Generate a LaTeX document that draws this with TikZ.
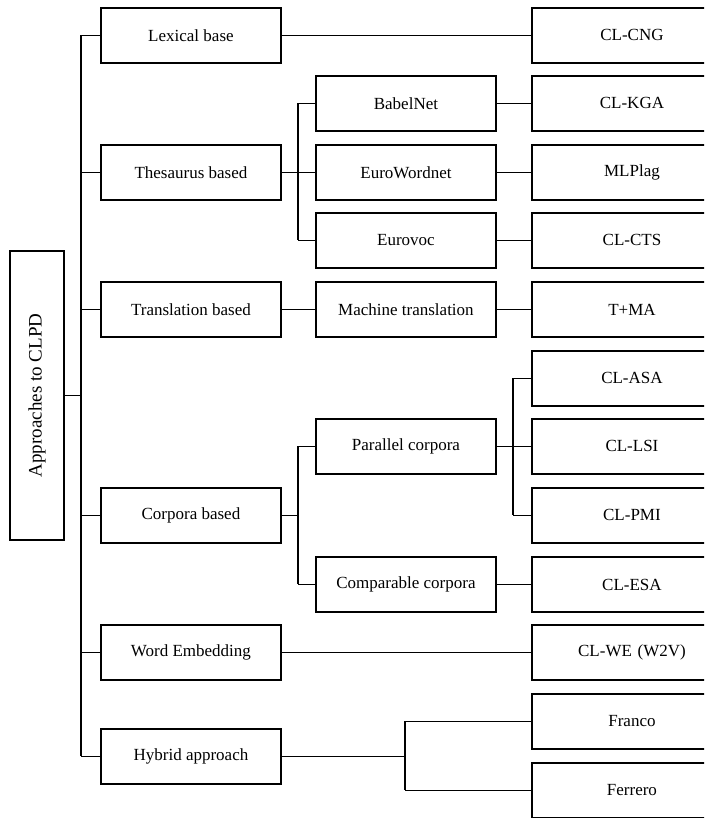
\documentclass[tikz,border=0pt]{standalone}
\usepackage{fontspec}
\setmainfont{Liberation Serif}
\begin{document}
\begin{tikzpicture}[x=1pt,y=-1pt,
  box/.style={draw,line width=1.9pt,minimum width=180pt,minimum height=55pt,inner sep=0pt,anchor=north west,font=\fontsize{17}{20}\selectfont},
  rbox/.style={draw,line width=1.9pt,minimum width=200pt,minimum height=55pt,inner sep=0pt,anchor=north west,font=\fontsize{17}{20}\selectfont,text width=173pt,align=center},
  conn/.style={line width=1.6pt}]
\useasboundingbox (0,0) rectangle (704,818);
\clip (0,0) rectangle (704,818);
% root
\node[draw,line width=1.9pt,minimum width=54pt,minimum height=289pt,inner sep=0pt,anchor=north west] (root) at (9,250) {};
\node[rotate=90,font=\fontsize{19}{22}\selectfont] (roottext) at (root.center) {Approaches to CLPD};
% level 1
\node[box] (lex) at (100,7) {Lexical base};
\node[box] (the) at (100,144) {Thesaurus based};
\node[box] (tra) at (100,281) {Translation based};
\node[box] (cor) at (100,487) {Corpora based};
\node[box] (we) at (100,624) {Word Embedding};
\node[box] (hyb) at (100,728) {Hybrid approach};
% level 2
\node[box] (bab) at (315,75) {BabelNet};
\node[box] (ewn) at (315,144) {EuroWordnet};
\node[box] (evc) at (315,212) {Eurovoc};
\node[box] (mt) at (315,281) {Machine translation};
\node[box] (par) at (315,418) {Parallel corpora};
\node[box] (cmp) at (315,556) {Comparable corpora};
% level 3
\node[rbox] (cng) at (531,7) {CL-CNG};
\node[rbox] (kga) at (531,75) {CL-KGA};
\node[rbox] (mlp) at (531,144) {MLPlag};
\node[rbox] (cts) at (531,212) {CL-CTS};
\node[rbox] (tma) at (531,281) {T+MA};
\node[rbox] (asa) at (531,350) {CL-ASA};
\node[rbox] (lsi) at (531,418) {CL-LSI};
\node[rbox] (pmi) at (531,487) {CL-PMI};
\node[rbox] (esa) at (531,556) {CL-ESA};
\node[rbox] (w2v) at (531,624) {CL-WE (W2V)};
\node[rbox] (fra) at (531,693) {Franco};
\node[rbox] (fer) at (531,762) {Ferrero};
% coordinates
\coordinate (spine) at (81,0);
\coordinate (tb) at (298,0);
\coordinate (cb) at (298,0);
\coordinate (pb) at (513,0);
\coordinate (hb) at (405,0);
% root spine
\draw[conn] (root.east) -- (root.east -| spine);
\draw[conn] (lex.west -| spine) -- (hyb.west -| spine);
\foreach \n in {lex,the,tra,cor,we,hyb} \draw[conn] (\n.west -| spine) -- (\n.west);
% lexical
\draw[conn] (lex.east) -- (cng.west);
% thesaurus
\draw[conn] (the.east) -- (ewn.west);
\draw[conn] (bab.west -| tb) -- (evc.west -| tb);
\draw[conn] (bab.west -| tb) -- (bab.west);
\draw[conn] (evc.west -| tb) -- (evc.west);
\draw[conn] (bab.east) -- (kga.west);
\draw[conn] (ewn.east) -- (mlp.west);
\draw[conn] (evc.east) -- (cts.west);
% translation
\draw[conn] (tra.east) -- (mt.west);
\draw[conn] (mt.east) -- (tma.west);
% corpora
\draw[conn] (cor.east) -- (cor.east -| cb);
\draw[conn] (par.west -| cb) -- (cmp.west -| cb);
\draw[conn] (par.west -| cb) -- (par.west);
\draw[conn] (cmp.west -| cb) -- (cmp.west);
\draw[conn] (par.east) -- (lsi.west);
\draw[conn] (asa.west -| pb) -- (pmi.west -| pb);
\draw[conn] (asa.west -| pb) -- (asa.west);
\draw[conn] (pmi.west -| pb) -- (pmi.west);
\draw[conn] (cmp.east) -- (esa.west);
% word embedding
\draw[conn] (we.east) -- (w2v.west);
% hybrid
\draw[conn] (hyb.east) -- (hyb.east -| hb);
\draw[conn] (fra.west -| hb) -- (fer.west -| hb);
\draw[conn] (fra.west -| hb) -- (fra.west);
\draw[conn] (fer.west -| hb) -- (fer.west);
\end{tikzpicture}
\end{document}
